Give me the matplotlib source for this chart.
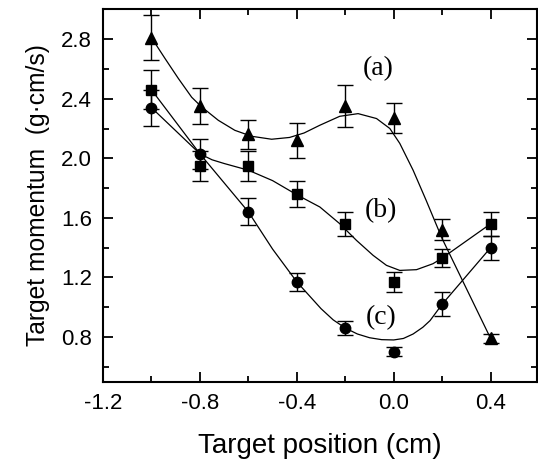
import matplotlib
matplotlib.use("Agg")
import matplotlib.pyplot as plt
from matplotlib.ticker import MultipleLocator

plt.rcParams['font.family'] = ['Liberation Sans', 'DejaVu Sans']

# measured points (x in cm)
pos = [-1.0, -0.8, -0.6, -0.4, -0.2, 0.0, 0.2, 0.4]

mom_a = [2.81, 2.35, 2.16, 2.12, 2.35, 2.27, 1.52, 0.79]
err_a = [0.15, 0.12, 0.10, 0.12, 0.14, 0.10, 0.07, 0.03]

mom_b = [2.46, 1.95, 1.95, 1.76, 1.56, 1.17, 1.33, 1.56]
err_b = [0.13, 0.10, 0.10, 0.09, 0.08, 0.065, 0.06, 0.08]

mom_c = [2.34, 2.03, 1.64, 1.17, 0.86, 0.70, 1.02, 1.40]
err_c = [0.12, 0.10, 0.09, 0.06, 0.05, 0.03, 0.08, 0.08]

# fitted guide curves
fit_a_x = [-1.0, -0.944, -0.889, -0.834, -0.793, -0.724, -0.656, -0.587, -0.504, -0.43,
           -0.37, -0.305, -0.223, -0.147, -0.071, -0.016, 0.025, 0.08, 0.134, 0.2, 0.4]
fit_a_y = [2.81, 2.67, 2.536, 2.41, 2.345, 2.255, 2.188, 2.148, 2.128, 2.14,
           2.17, 2.222, 2.282, 2.30, 2.267, 2.20, 2.10, 1.92, 1.717, 1.46, 0.79]

fit_b_x = [-1.0, -0.8, -0.75, -0.7, -0.6, -0.5, -0.4, -0.305, -0.223, -0.154, -0.085,
           -0.03, 0.025, 0.094, 0.162, 0.2, 0.4]
fit_b_y = [2.46, 2.03, 1.99, 1.965, 1.92, 1.85, 1.755, 1.673, 1.561, 1.449, 1.348,
           1.281, 1.247, 1.252, 1.292, 1.33, 1.56]

fit_c_x = [-1.0, -0.8, -0.6, -0.5, -0.4, -0.3, -0.25, -0.2, -0.15, -0.1, -0.05, 0.0,
           0.04, 0.08, 0.12, 0.15, 0.2, 0.4]
fit_c_y = [2.34, 2.03, 1.64, 1.39, 1.17, 0.99, 0.915, 0.86, 0.82, 0.795, 0.782, 0.78,
           0.79, 0.82, 0.865, 0.91, 1.02, 1.40]

fig = plt.figure(figsize=(5.38, 4.70), dpi=100)
ax = fig.add_axes([0.1915, 0.188, 0.806, 0.792])

for fx, fy in [(fit_a_x, fit_a_y), (fit_b_x, fit_b_y), (fit_c_x, fit_c_y)]:
    ax.plot(fx, fy, color='black', lw=0.9, solid_joinstyle='round')

for y, e, m, ms in [(mom_a, err_a, '^', 8.5), (mom_b, err_b, 's', 7), (mom_c, err_c, 'o', 7.5)]:
    ax.errorbar(pos, y, yerr=e, fmt=m, color='black', ms=ms, capsize=6,
                elinewidth=1.0, capthick=1.0, mec='black', mfc='black')

ax.text(-0.065, 2.60, '(a)', family='Liberation Serif', fontsize=20, ha='center', va='center')
ax.text(-0.052, 1.65, '(b)', family='Liberation Serif', fontsize=20, ha='center', va='center')
ax.text(-0.052, 0.933, '(c)', family='Liberation Serif', fontsize=20, ha='center', va='center')

ax.set_xlim(-1.2, 0.59)
ax.set_ylim(0.5, 3.0)
ax.xaxis.set_minor_locator(MultipleLocator(0.2))
ax.yaxis.set_minor_locator(MultipleLocator(0.2))
ax.set_xticks([-1.2, -0.8, -0.4, 0.0, 0.4])
ax.set_xticklabels(['-1.2', '-0.8', '-0.4', '0.0', '0.4'])
ax.set_yticks([0.8, 1.2, 1.6, 2.0, 2.4, 2.8])
ax.set_yticklabels(['0.8', '1.2', '1.6', '2.0', '2.4', '2.8'])

ax.tick_params(which='both', direction='in', top=True, right=True, width=1.3, labelsize=16)
ax.tick_params(which='major', length=7, pad=8)
ax.tick_params(which='minor', length=4)
for s in ax.spines.values():
    s.set_linewidth(1.5)

ax.set_xlabel('Target position (cm)', fontsize=20, labelpad=14)
ax.set_ylabel('Target momentum  (g\u00b7cm/s)', fontsize=17.7, labelpad=8)

fig.savefig('out.png', dpi=100)
